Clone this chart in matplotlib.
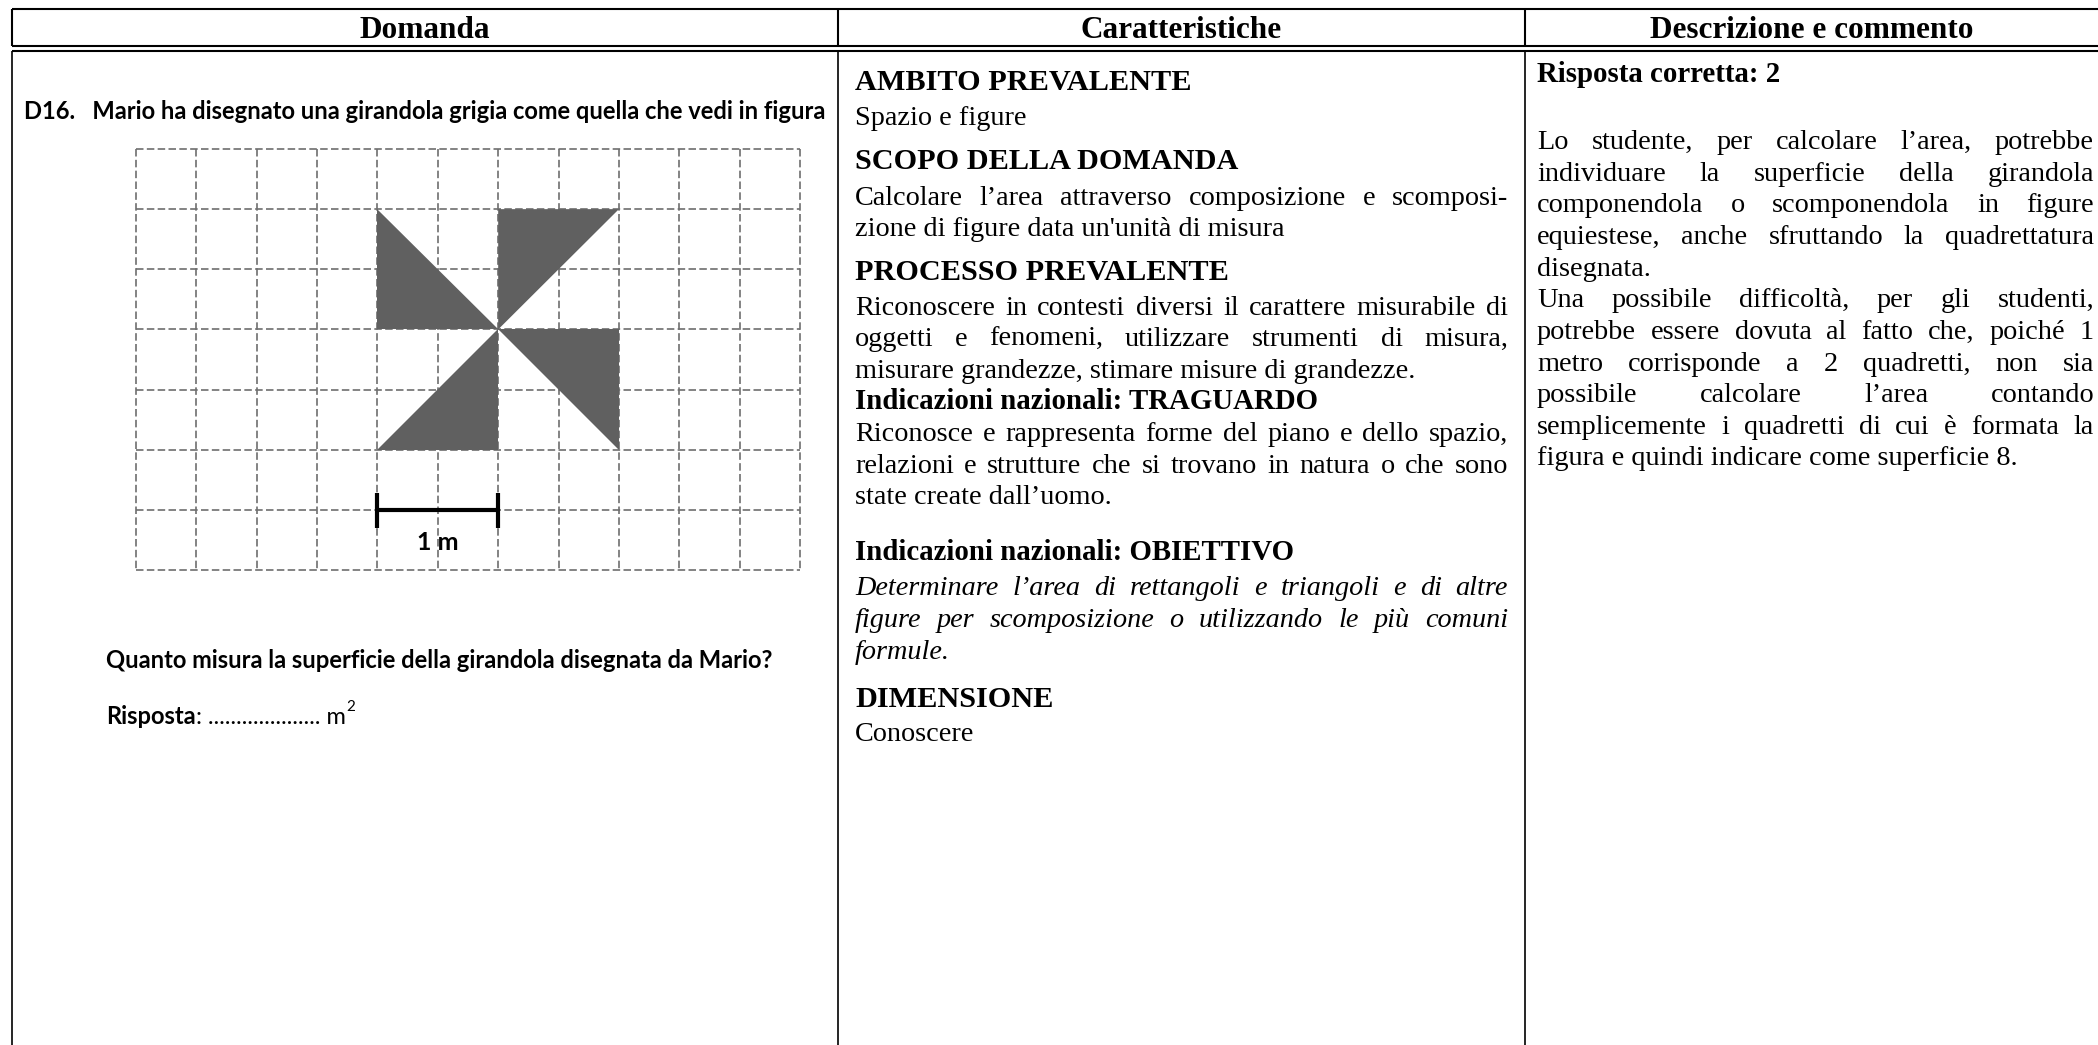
import matplotlib
matplotlib.use("Agg")
import matplotlib.pyplot as plt
from matplotlib.patches import Polygon

W, H, DPI = 2098, 1045, 100

# ---------------- data ----------------
headers = ["Domanda", "Caratteristiche", "Descrizione e commento"]
question_title = "D16.   Mario ha disegnato una girandola grigia come quella che vedi in figura"
question_text = "Quanto misura la superficie della girandola disegnata da Mario?"
answer_label = "Risposta"
answer_rest = ": .................... m"
answer_sup = "2"
grid_cols = 11
grid_rows = 7
triangles = [
    [(4, 1), (4, 3), (6, 3)],
    [(6, 1), (8, 1), (6, 3)],
    [(6, 3), (8, 3), (8, 5)],
    [(6, 3), (6, 5), (4, 5)],
]
scale_from, scale_to, scale_row = 4, 6, 6
scale_label = "1 m"

# (text, style, justified)  style: h=bold heading, b=body, i=italic
car_lines = [
    ("AMBITO PREVALENTE", "h", False),
    ("Spazio e figure", "b", False),
    ("SCOPO DELLA DOMANDA", "h", False),
    ("Calcolare l\u2019area attraverso composizione e scomposi-", "b", True),
    ("zione di figure data un'unit\u00e0 di misura", "b", False),
    ("PROCESSO PREVALENTE", "h", False),
    ("Riconoscere in contesti diversi il carattere misurabile di", "b", True),
    ("oggetti e fenomeni, utilizzare strumenti di misura,", "b", True),
    ("misurare grandezze, stimare misure di grandezze.", "b", False),
    ("Indicazioni nazionali: TRAGUARDO", "h2", False),
    ("Riconosce e rappresenta forme del piano e dello spazio,", "b", True),
    ("relazioni e strutture che si trovano in natura o che sono", "b", True),
    ("state create dall\u2019uomo.", "b", False),
    ("Indicazioni nazionali: OBIETTIVO", "h2", False),
    ("Determinare l\u2019area di rettangoli e triangoli e di altre", "i", True),
    ("figure per scomposizione o utilizzando le pi\u00f9 comuni", "i", True),
    ("formule.", "i", False),
    ("DIMENSIONE", "h", False),
    ("Conoscere", "b", False),
]
desc_lines = [
    ("Risposta corretta: 2", "h2", False),
    ("Lo studente, per calcolare l\u2019area, potrebbe", "b", True),
    ("individuare la superficie della girandola", "b", True),
    ("componendola o scomponendola in figure", "b", True),
    ("equiestese, anche sfruttando la quadrettatura", "b", True),
    ("disegnata.", "b", False),
    ("Una possibile difficolt\u00e0, per gli studenti,", "b", True),
    ("potrebbe essere dovuta al fatto che, poich\u00e9 1", "b", True),
    ("metro corrisponde a 2 quadretti, non sia", "b", True),
    ("possibile calcolare l\u2019area contando", "b", True),
    ("semplicemente i quadretti di cui \u00e8 formata la", "b", True),
    ("figura e quindi indicare come superficie 8.", "b", False),
]

# ---------------- layout ----------------
car_y = [80, 115, 159, 195, 226, 270, 305, 336, 368, 399, 431, 463, 494,
         550, 585, 617, 649, 697, 731]
desc_y = [72, 139, 171, 202, 234, 266, 297, 329, 361, 392, 424, 455]
car_x0, car_x1 = 855, 1508
desc_x0, desc_x1 = 1537, 2094

SERIF = "Liberation Serif"
SANS = "Lato"
styles = {
    "h": dict(family=SERIF, weight="bold", size=21.8),
    "h2": dict(family=SERIF, weight="bold", size=20.8),
    "b": dict(family=SERIF, size=20.3),
    "i": dict(family=SERIF, style="italic", size=20.3),
}

fig = plt.figure(figsize=(W / DPI, H / DPI), dpi=DPI)
fig.patch.set_facecolor("white")
ax = fig.add_axes([0, 0, 1, 1])
ax.set_xlim(0, W)
ax.set_ylim(H, 0)
ax.axis("off")
renderer = fig.canvas.get_renderer()


def baseline(yc, size_pt):
    return yc + 0.34 * size_pt * DPI / 72.0


def draw_line(x0, x1, yc, s, style, justify):
    kw = styles[style]
    yb = baseline(yc, kw["size"])
    if not justify:
        ax.text(x0, yb, s, ha="left", va="baseline", **kw)
        return
    words = s.split()
    ts = [ax.text(0, yb, w, ha="left", va="baseline", **kw) for w in words]
    widths = [t.get_window_extent(renderer).width for t in ts]
    gap = (x1 - x0 - sum(widths)) / (len(words) - 1)
    x = x0
    for t, w in zip(ts, widths):
        t.set_x(x)
        x += w + gap


def fit_text(x, yb, s, target_w, **kw):
    t = ax.text(x, yb, s, ha="left", va="baseline", **kw)
    w = t.get_window_extent(renderer).width
    t.set_fontsize(t.get_fontsize() * target_w / w)
    return t


# ---------------- table frame ----------------
lw = 1.5
xl, xr = 12, W
col_x = [12, 838, 1525]
for y in (9, 46, 51):
    ax.plot([xl, xr], [y, y], color="black", lw=lw, solid_capstyle="butt")
for x in col_x:
    ax.plot([x, x], [9, 46], color="black", lw=lw, solid_capstyle="butt")
    ax.plot([x, x], [51, H], color="black", lw=lw * 0.8, solid_capstyle="butt")

head_cx = [(col_x[0] + col_x[1]) / 2, (col_x[1] + col_x[2]) / 2, (col_x[2] + W) / 2]
for cx, h in zip(head_cx, headers):
    ax.text(cx, baseline(27.5, 22.5), h, ha="center", va="baseline",
            family=SERIF, weight="bold", size=22.5)

# ---------------- column 2 and 3 ----------------
for (s, st, j), y in zip(car_lines, car_y):
    draw_line(car_x0, car_x1, y, s, st, j)
for (s, st, j), y in zip(desc_lines, desc_y):
    draw_line(desc_x0, desc_x1, y, s, st, j)

# ---------------- column 1 ----------------
fit_text(24, 119, question_title, 806, family=SANS, weight="bold", size=16)
fit_text(106, 668, question_text, 672, family=SANS, weight="bold", size=16)
t1 = ax.text(106, 724, answer_label, ha="left", va="baseline",
             family=SANS, weight="bold", size=17)
w1 = t1.get_window_extent(renderer).width
t2 = ax.text(106 + w1, 724, answer_rest, ha="left", va="baseline",
             family=SANS, size=17)
w2 = t2.get_window_extent(renderer).width
ax.text(106 + w1 + w2 + 1, 711, answer_sup, ha="left", va="baseline",
        family=SANS, size=11)

# grid figure
gx0, gx1, gy0, gy1 = 136, 800, 149, 570
gax = fig.add_axes([gx0 / W, (H - gy1) / H, (gx1 - gx0) / W, (gy1 - gy0) / H])
gax.set_xlim(0, grid_cols)
gax.set_ylim(grid_rows, 0)
gax.axis("off")
dash = (0, (4.5, 2.0))
gax.vlines(range(grid_cols + 1), 0, grid_rows, colors="#6e6e6e", lw=1.2,
           linestyles=[dash], clip_on=False)
gax.hlines(range(grid_rows + 1), 0, grid_cols, colors="#6e6e6e", lw=1.2,
           linestyles=[dash], clip_on=False)
for tri in triangles:
    gax.add_patch(Polygon(tri, closed=True, facecolor="#606060",
                          edgecolor="none", zorder=3))
gax.plot([scale_from, scale_to], [scale_row, scale_row], color="black", lw=3,
         solid_capstyle="butt", zorder=4)
gax.vlines([scale_from, scale_to], scale_row - 0.28, scale_row + 0.30,
           colors="black", lw=3, zorder=4)
gax.text((scale_from + scale_to) / 2, scale_row + 0.55, scale_label,
         ha="center", va="center", family=SANS, weight="bold", size=18,
         zorder=5)

fig.savefig("out.png", dpi=DPI, facecolor="white")
